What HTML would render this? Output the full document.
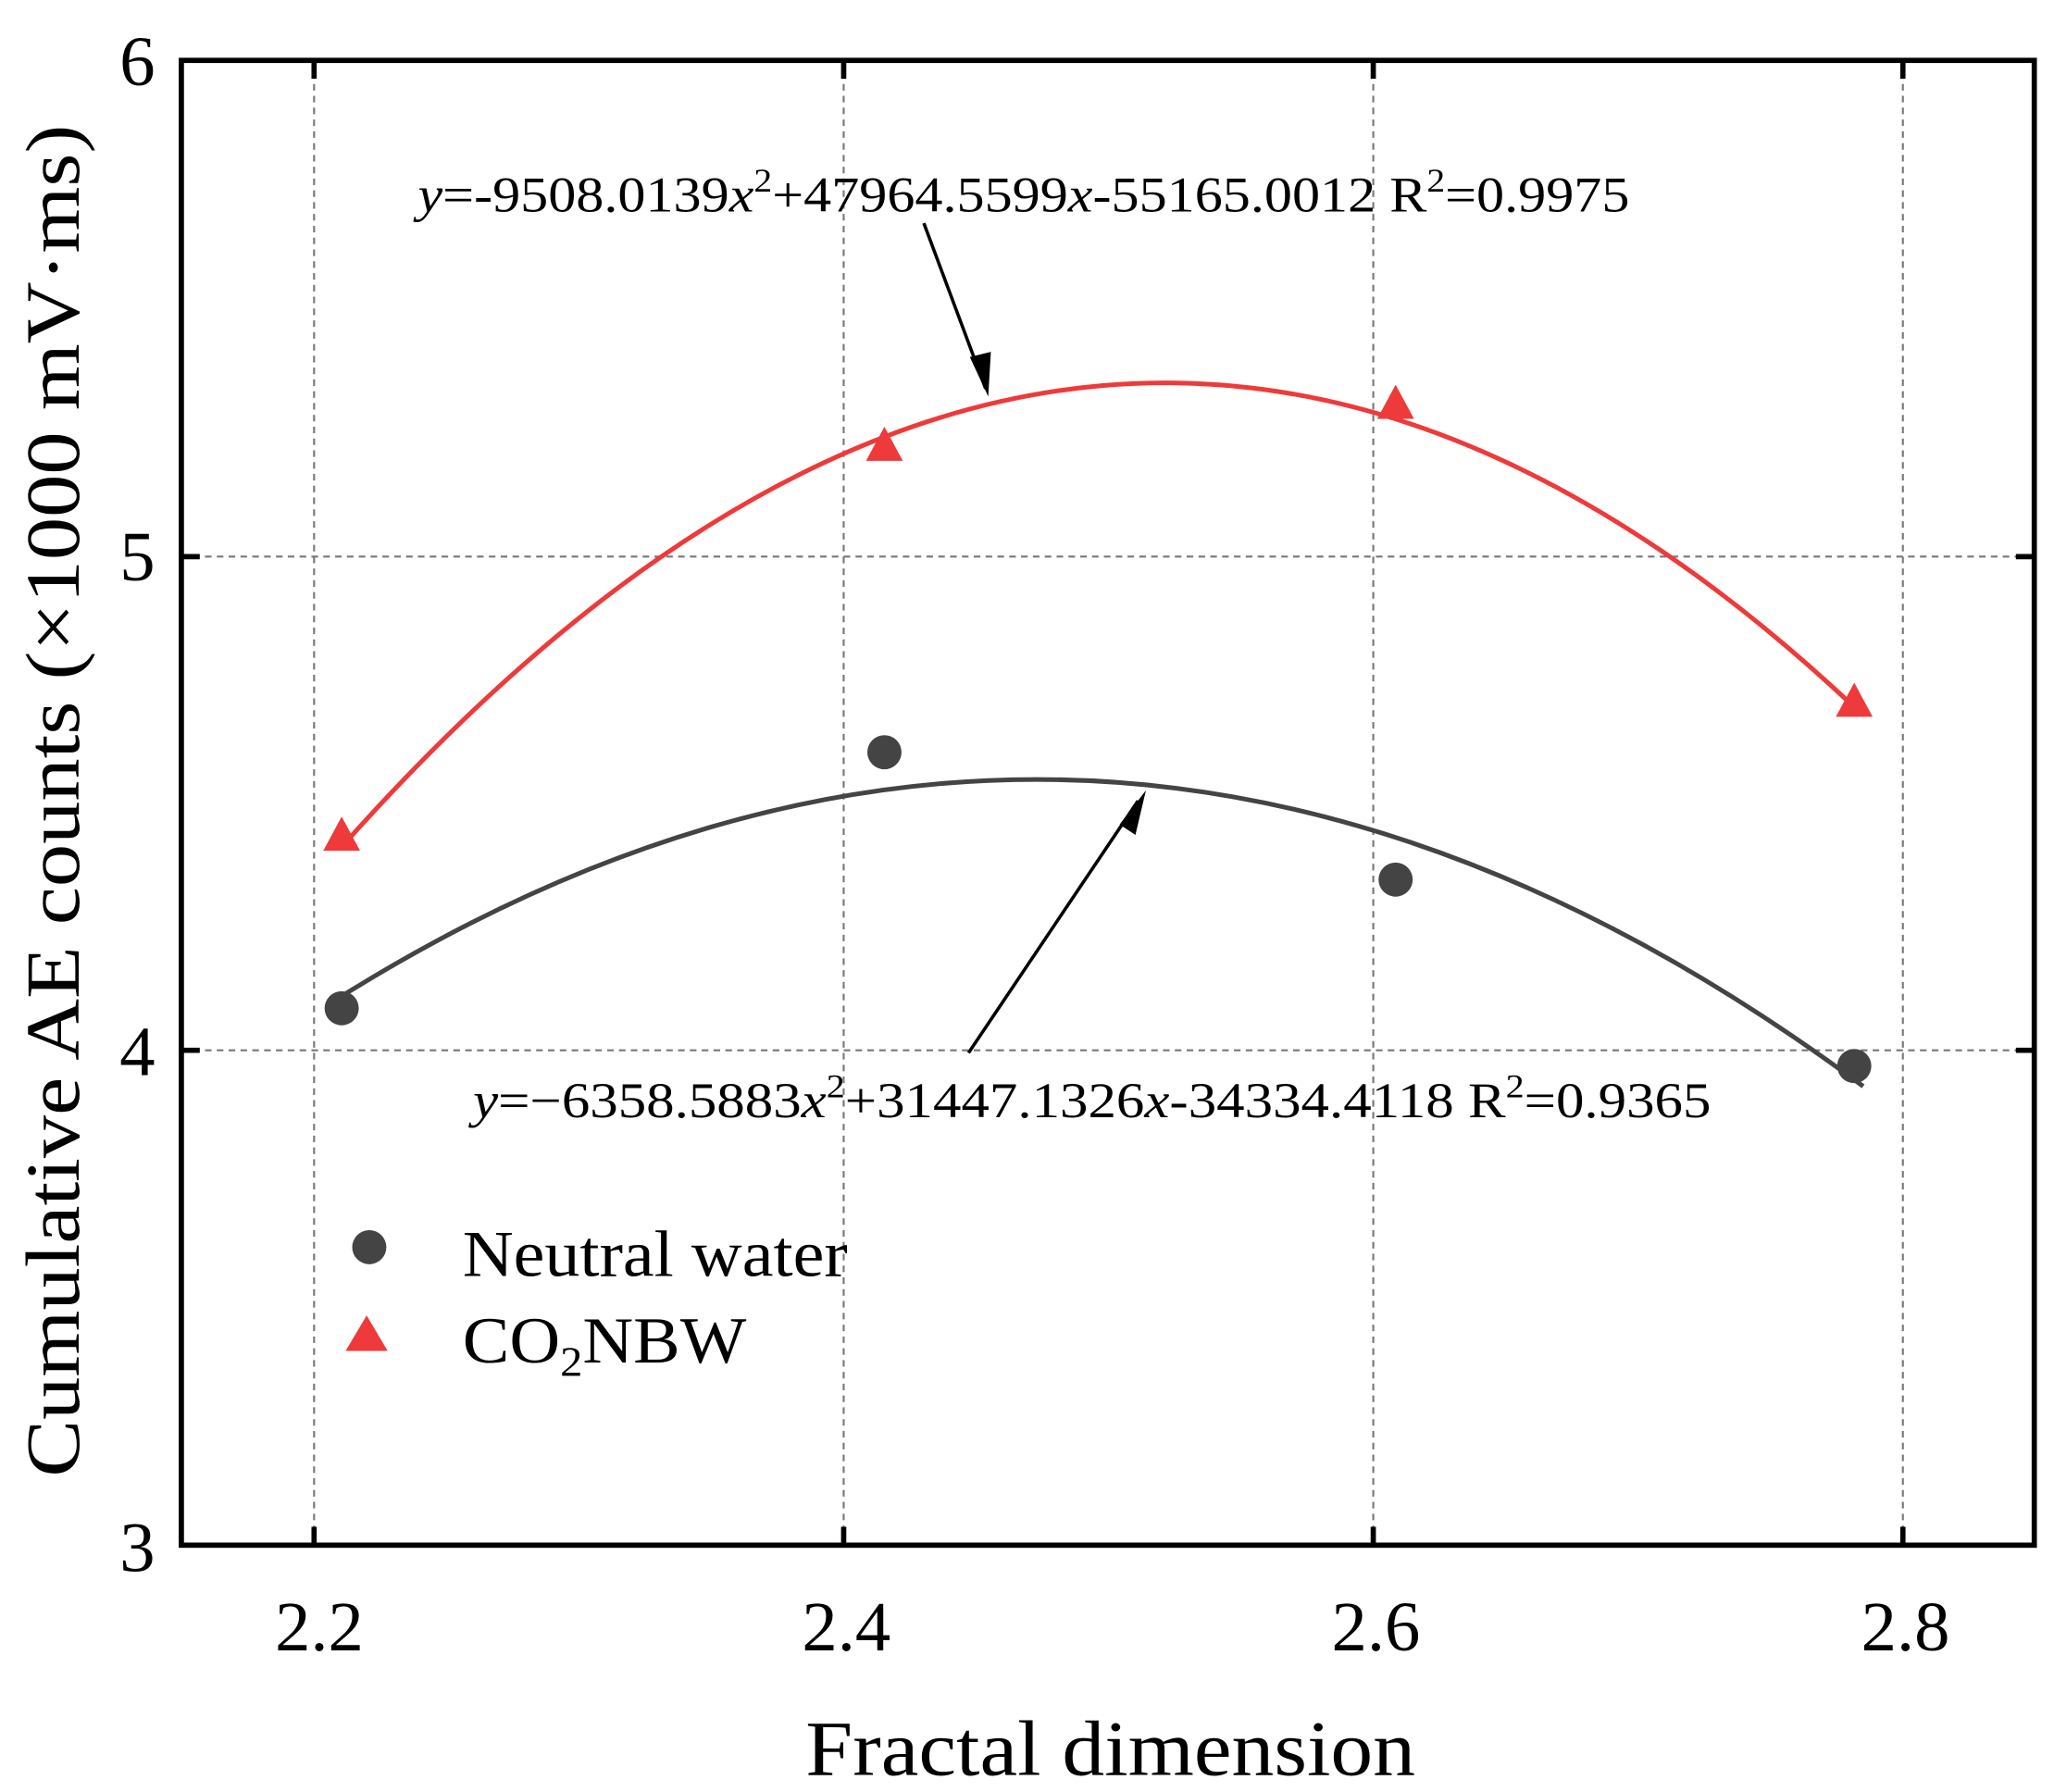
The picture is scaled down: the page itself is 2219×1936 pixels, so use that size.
<!DOCTYPE html>
<html><head><meta charset="utf-8"><style>html,body{margin:0;padding:0;background:#fff}svg{display:block}</style></head>
<body>
<svg width="2219" height="1936" viewBox="0 0 1563 1365" preserveAspectRatio="none" xmlns="http://www.w3.org/2000/svg" font-family="'Liberation Serif', serif">
<g stroke="#777" stroke-width="1.5" stroke-dasharray="5,4" fill="none">
<line x1="239" y1="46" x2="239" y2="1177"/><line x1="642" y1="46" x2="642" y2="1177"/>
<line x1="1045" y1="46" x2="1045" y2="1177"/><line x1="1448" y1="46" x2="1448" y2="1177"/>
<line x1="138" y1="424" x2="1548" y2="424"/><line x1="138" y1="800" x2="1548" y2="800"/>
</g>
<path d="M259.2,646 Q838.5,-8 1417.8,545" fill="none" stroke="#ee3a3a" stroke-width="3.5"/>
<path d="M259.2,759.3 Q838.5,397 1417.8,827.5" fill="none" stroke="#444" stroke-width="3.5"/>
<g fill="#ee3a3a">
<polygon points="260,622 246,648 274,648"/><polygon points="673,325 659,351 687,351"/>
<polygon points="1062,293 1048,319 1076,319"/><polygon points="1411,520 1397,546 1425,546"/>
<polygon points="279,1002 263,1029 295,1029"/>
</g>
<g fill="#444">
<circle cx="260" cy="768" r="13"/><circle cx="673" cy="573" r="13"/><circle cx="1062" cy="670" r="13"/><circle cx="1411" cy="812" r="13"/>
<circle cx="281" cy="950" r="13"/>
</g>
<g stroke="#000" stroke-width="2.5">
<line x1="703" y1="170" x2="750" y2="296"/><polygon points="752,302 738,272 754,268" fill="#000" stroke="none"/>
<line x1="737" y1="802" x2="866" y2="610"/><polygon points="872,602 852,628 864,636" fill="#000" stroke="none"/>
</g>
<rect x="138" y="46" width="1410" height="1131" fill="none" stroke="#000" stroke-width="4"/>
<g stroke="#000" stroke-width="4">
<line x1="239" y1="1177" x2="239" y2="1163"/><line x1="642" y1="1177" x2="642" y2="1163"/><line x1="1045" y1="1177" x2="1045" y2="1163"/><line x1="1448" y1="1177" x2="1448" y2="1163"/>
<line x1="239" y1="46" x2="239" y2="60"/><line x1="642" y1="46" x2="642" y2="60"/><line x1="1045" y1="46" x2="1045" y2="60"/><line x1="1448" y1="46" x2="1448" y2="60"/>
<line x1="138" y1="424" x2="152" y2="424"/><line x1="138" y1="800" x2="152" y2="800"/>
<line x1="1548" y1="424" x2="1534" y2="424"/><line x1="1548" y1="800" x2="1534" y2="800"/>
</g>
<g font-size="54" text-anchor="end" fill="#000">
<text x="118" y="65">6</text><text x="118" y="442">5</text><text x="118" y="819">4</text><text x="118" y="1197">3</text>
</g>
<g font-size="54" text-anchor="middle" fill="#000">
<text x="243" y="1257">2.2</text><text x="644" y="1257">2.4</text><text x="1047" y="1257">2.6</text><text x="1450" y="1257">2.8</text>
</g>
<text x="613" y="1352" font-size="60" textLength="464" lengthAdjust="spacingAndGlyphs">Fractal dimension</text>
<text transform="translate(60,1125) rotate(-90)" font-size="58" textLength="1030" lengthAdjust="spacingAndGlyphs">Cumulative AE counts (×1000 mV·ms)</text>
<text x="318" y="161" font-size="38" textLength="922" lengthAdjust="spacingAndGlyphs"><tspan font-style="italic">y</tspan>=-9508.0139<tspan font-style="italic">x</tspan><tspan dy="-15" font-size="25">2</tspan><tspan dy="15">+47964.5599</tspan><tspan font-style="italic">x</tspan>-55165.0012 R<tspan dy="-15" font-size="25">2</tspan><tspan dy="15">=0.9975</tspan></text>
<text x="360" y="851" font-size="38" textLength="942" lengthAdjust="spacingAndGlyphs"><tspan font-style="italic">y</tspan>=−6358.5883<tspan font-style="italic">x</tspan><tspan dy="-15" font-size="25">2</tspan><tspan dy="15">+31447.1326</tspan><tspan font-style="italic">x</tspan>-34334.4118 R<tspan dy="-15" font-size="25">2</tspan><tspan dy="15">=0.9365</tspan></text>
<text x="352" y="972" font-size="50" textLength="293" lengthAdjust="spacingAndGlyphs">Neutral water</text>
<text x="352" y="1038" font-size="50" textLength="216" lengthAdjust="spacingAndGlyphs">CO<tspan dy="10" font-size="32">2</tspan><tspan dy="-10">NBW</tspan></text>
</svg>
</body></html>
